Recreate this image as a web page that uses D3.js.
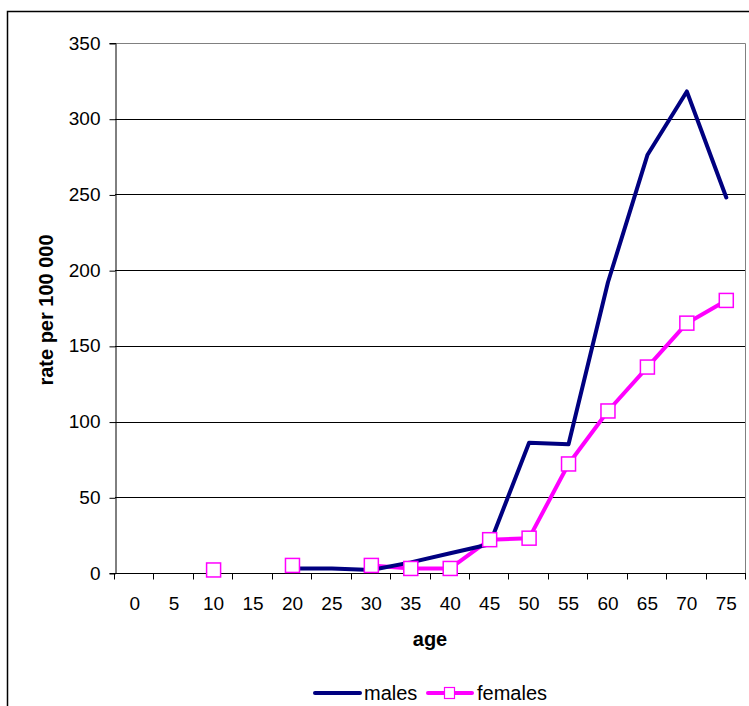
<!DOCTYPE html>
<html>
<head>
<meta charset="utf-8">
<script src="https://cdn.jsdelivr.net/npm/d3@7"></script>
<style>
  body { margin: 0; background: #fff; }
  svg { font-family: "Liberation Sans", Arial, sans-serif; }
</style>
</head>
<body>
<div id="chart"></div>
<script>
// Setting up sizes
const width = 749;
const height = 706;

const margin = {
  top: 43,
  right: 3,
  bottom: 133,
  left: 115
};

// Data
const ages = [0, 5, 10, 15, 20, 25, 30, 35, 40, 45, 50, 55, 60, 65, 70, 75];
const males = [null, null, null, null, 3, 3, 2, 7, 13, 19, 86, 85, 192, 276, 318, 248];
const females = [null, null, 2, null, 5, null, 5, 3, 3, 22, 23, 72, 107, 136, 165, 180];
const yTicks = [0, 50, 100, 150, 200, 250, 300, 350];

const svg = d3.select("#chart")
  .append("svg")
  .attr("width", width)
  .attr("height", height);

// Outer frame
svg.append("path")
  .attr("d", `M7.5,${height} L7.5,11.5 L${width},11.5`)
  .attr("fill", "none")
  .attr("stroke", "#000")
  .attr("stroke-width", 1.5);

// Scales
const x = d3.scaleBand()
  .domain(ages)
  .range([margin.left, width - margin.right]);

const y = d3.scaleLinear()
  .domain([0, 350])
  .range([height - margin.bottom, margin.top]);

// Gridlines
svg.append("g")
  .selectAll("line")
  .data(yTicks.filter(d => d > 0 && d < 350))
  .enter()
  .append("line")
  .attr("x1", margin.left)
  .attr("x2", width - margin.right)
  .attr("y1", d => Math.round(y(d)) + 0.5)
  .attr("y2", d => Math.round(y(d)) + 0.5)
  .attr("stroke", "#000");

// Plot area border (top + right)
svg.append("path")
  .attr("d", `M${margin.left},${margin.top + 0.5} L${width - margin.right - 0.5},${margin.top + 0.5} L${width - margin.right - 0.5},${height - margin.bottom}`)
  .attr("fill", "none")
  .attr("stroke", "#808080");

// Axes
const yAxis = svg.append("g")
  .attr("transform", `translate(${margin.left + 0.5},0)`)
  .call(d3.axisLeft(y).tickValues(yTicks).tickSize(6).tickPadding(9).tickFormat(d3.format("d")));

yAxis.selectAll("text").style("font-size", "19px").attr("fill", "#000");
yAxis.select(".domain").attr("stroke", "#000");
yAxis.selectAll(".tick line").attr("y1", 0.5).attr("y2", 0.5);

const xAxis = svg.append("g")
  .attr("transform", `translate(0,${Math.round(y(0)) + 0.5})`);

xAxis.append("line")
  .attr("x1", margin.left)
  .attr("x2", width - margin.right)
  .attr("stroke", "#000");

xAxis.selectAll(".tk")
  .data(ages.concat(["end"]))
  .enter()
  .append("line")
  .attr("class", "tk")
  .attr("x1", d => Math.round(d === "end" ? x.range()[1] : x(d)) - 0.5)
  .attr("x2", d => Math.round(d === "end" ? x.range()[1] : x(d)) - 0.5)
  .attr("y1", 0)
  .attr("y2", 6)
  .attr("stroke", "#000");

xAxis.selectAll(".lbl")
  .data(ages)
  .enter()
  .append("text")
  .attr("class", "lbl")
  .attr("x", d => x(d) + x.bandwidth() / 2)
  .attr("y", 36)
  .attr("text-anchor", "middle")
  .style("font-size", "19px")
  .text(d => d);

// Axis titles
svg.append("text")
  .attr("transform", `translate(53,${(margin.top + height - margin.bottom) / 2 + 2}) rotate(-90)`)
  .attr("text-anchor", "middle")
  .style("font-size", "20px")
  .style("font-weight", "bold")
  .text("rate per 100 000");

svg.append("text")
  .attr("x", 430)
  .attr("y", 646)
  .attr("text-anchor", "middle")
  .style("font-size", "20px")
  .style("font-weight", "bold")
  .text("age");

// Lines
const cx = d => x(d) + x.bandwidth() / 2;

const maleData = ages.map((a, i) => ({ a, v: males[i] })).filter(d => d.v !== null);
const femaleData = ages.map((a, i) => ({ a, v: females[i] })).filter(d => d.v !== null);

const line = d3.line()
  .x(d => cx(d.a))
  .y(d => y(d.v));

svg.append("path")
  .datum(femaleData.filter(d => d.a >= 30))
  .attr("d", line)
  .attr("fill", "none")
  .attr("stroke", "#ff00ff")
  .attr("stroke-width", 4)
  .attr("stroke-linejoin", "round");

svg.append("path")
  .datum(maleData)
  .attr("d", line)
  .attr("fill", "none")
  .attr("stroke", "#000080")
  .attr("stroke-width", 4)
  .attr("stroke-linejoin", "round")
  .attr("stroke-linecap", "round");

// Female markers
svg.selectAll(".marker")
  .data(femaleData)
  .enter()
  .append("rect")
  .attr("class", "marker")
  .attr("x", d => cx(d.a) - 7)
  .attr("y", d => y(d.v) - 7)
  .attr("width", 14)
  .attr("height", 14)
  .attr("fill", "#fff")
  .attr("stroke", "#ff00ff")
  .attr("stroke-width", 1.5);

// Legend
const legend = svg.append("g").attr("transform", "translate(0,693)");

legend.append("line")
  .attr("x1", 315).attr("x2", 360)
  .attr("stroke", "#000080").attr("stroke-width", 4).attr("stroke-linecap", "round");
legend.append("text")
  .attr("x", 364).attr("y", 7)
  .style("font-size", "20px")
  .text("males");

legend.append("line")
  .attr("x1", 428).attr("x2", 472)
  .attr("stroke", "#ff00ff").attr("stroke-width", 4).attr("stroke-linecap", "round");
legend.append("rect")
  .attr("x", 444.5).attr("y", -5.5).attr("width", 10).attr("height", 11)
  .attr("fill", "#fff").attr("stroke", "#ff00ff").attr("stroke-width", 1.2);
legend.append("text")
  .attr("x", 477).attr("y", 7)
  .style("font-size", "20px")
  .text("females");
</script>
</body>
</html>
